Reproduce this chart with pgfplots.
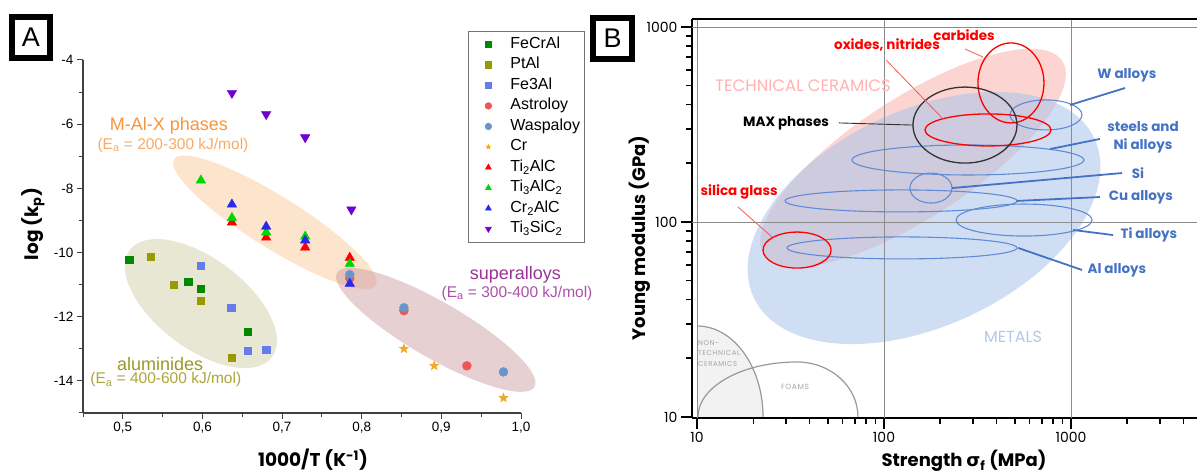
\documentclass[border=0pt]{standalone}
\usepackage{fontspec}
\setmainfont{Liberation Sans}
\newfontfamily\pop{Poppins}
\newfontfamily\popls[LetterSpace=8]{Poppins}
\newfontfamily\dv{DejaVu Sans}
\usepackage{pgfplots}
\pgfplotsset{compat=1.18}
\definecolor{cFeCrAl}{RGB}{0,136,0}
\definecolor{cPtAl}{RGB}{153,153,0}
\definecolor{cFe3Al}{RGB}{100,125,235}
\definecolor{cAstro}{RGB}{238,85,85}
\definecolor{cWaspa}{RGB}{105,150,200}
\definecolor{cCr}{RGB}{240,170,40}
\definecolor{cTiAlC}{RGB}{255,0,0}
\definecolor{cTiAlCC}{RGB}{0,215,0}
\definecolor{cCrAlC}{RGB}{40,40,240}
\definecolor{cTiSiC}{RGB}{110,0,210}
\definecolor{eOrange}{RGB}{253,228,205}
\definecolor{eOlive}{RGB}{232,231,212}
\definecolor{eSuper}{RGB}{200,150,155}
\definecolor{tOrange}{RGB}{247,148,60}
\definecolor{tOrange2}{RGB}{249,170,100}
\definecolor{tOlive}{RGB}{153,153,40}
\definecolor{tOlive2}{RGB}{170,165,60}
\definecolor{tPurple}{RGB}{153,51,153}
\definecolor{tPurple2}{RGB}{170,80,170}
\definecolor{fPink}{RGB}{252,213,210}
\definecolor{fBlue}{RGB}{170,195,235}
\definecolor{lBlue}{RGB}{68,114,196}
\definecolor{eBlue}{RGB}{95,140,212}
\definecolor{tPink}{RGB}{255,178,178}
\definecolor{tMetal}{RGB}{180,199,231}
\definecolor{lRed}{RGB}{240,90,90}
\pgfdeclareplotmark{fstar}{%
  \pgfpathmoveto{\pgfpointpolar{90}{\pgfplotmarksize}}%
  \pgfpathlineto{\pgfpointpolar{126}{0.42\pgfplotmarksize}}%
  \pgfpathlineto{\pgfpointpolar{162}{\pgfplotmarksize}}%
  \pgfpathlineto{\pgfpointpolar{198}{0.42\pgfplotmarksize}}%
  \pgfpathlineto{\pgfpointpolar{234}{\pgfplotmarksize}}%
  \pgfpathlineto{\pgfpointpolar{270}{0.42\pgfplotmarksize}}%
  \pgfpathlineto{\pgfpointpolar{306}{\pgfplotmarksize}}%
  \pgfpathlineto{\pgfpointpolar{342}{0.42\pgfplotmarksize}}%
  \pgfpathlineto{\pgfpointpolar{18}{\pgfplotmarksize}}%
  \pgfpathlineto{\pgfpointpolar{54}{0.42\pgfplotmarksize}}%
  \pgfpathclose\pgfusepathqfill}
\begin{document}
\begin{tikzpicture}
\useasboundingbox (0pt,0pt) rectangle (1198pt,473pt);
% ---------------- Panel A ----------------
\begin{axis}[
  at={(83pt,60pt)}, anchor=south west, scale only axis, width=438pt, height=353pt,
  xmin=0.45, xmax=1.0, ymin=-15, ymax=-4,
  axis x line*=bottom, axis y line*=left,
  axis line style={line width=1.3pt, black!75, -},
  xtick={0.5,0.6,0.7,0.8,0.9,1.0},
  minor xtick={0.45,0.55,0.65,0.75,0.85,0.95},
  ytick={-14,-12,-10,-8,-6,-4},
  minor ytick={-15,-13,-11,-9,-7,-5},
  tick align=outside, major tick length=6pt, minor tick length=4pt,
  tick style={line width=1pt, black!75},
  /pgf/number format/assume math mode=true,
  x tick label style={/pgf/number format/.cd, use comma, fixed, fixed zerofill, precision=1},
  tick label style={font=\fontsize{13.5}{15}\selectfont},
  clip=false,
  legend cell align=left,
  legend image code/.code={\path[draw=none, fill=none] (0pt,-2pt) rectangle (38pt,2pt);
    \draw[mark repeat=2, mark phase=2, mark size=3.2pt, #1] plot coordinates {(0pt,0pt) (17pt,0pt) (34pt,0pt)};},
  legend style={at={(0.879,1.082)}, anchor=north west, draw=black!55, line width=0.8pt,
    fill=white, font=\fontsize{16}{18}\selectfont, row sep=2.5pt,
    inner xsep=3pt, inner ysep=4pt,
    nodes={text height=12pt, text depth=4pt, inner sep=1pt}},
]
\fill[eOlive] (axis cs:0.598,-11.59) ellipse[x radius=89pt, y radius=45pt, rotate=-37];
\fill[eOrange] (axis cs:0.691,-9.06) ellipse[x radius=119pt, y radius=26pt, rotate=-32];
\fill[eSuper, fill opacity=0.45] (axis cs:0.893,-12.41) ellipse[x radius=114pt, y radius=28pt, rotate=-30];

\addplot[only marks, mark=square*, mark size=3.6pt, color=cFeCrAl] coordinates {(0.508,-10.22) (0.582,-10.91) (0.598,-11.13) (0.657,-12.47)};
\addlegendentry{FeCrAl}
\addplot[only marks, mark=square*, mark size=3.6pt, color=cPtAl] coordinates {(0.535,-10.13) (0.564,-11.0) (0.598,-11.5) (0.637,-13.28)};
\addlegendentry{PtAl}
\addplot[only marks, mark=square*, mark size=3.6pt, color=cFe3Al] coordinates {(0.598,-10.41) (0.636,-11.72) (0.657,-13.06) (0.680,-13.03)};
\addlegendentry{Fe3Al}
\addplot[only marks, mark=*, mark size=4.5pt, color=cAstro] coordinates {(0.853,-11.81) (0.932,-13.53) (0.785,-10.8)};
\addlegendentry{Astroloy}
\addplot[only marks, mark=*, mark size=4.5pt, color=cWaspa] coordinates {(0.853,-11.72) (0.978,-13.72) (0.785,-10.69)};
\addlegendentry{Waspaloy}
\addplot[only marks, mark=fstar, mark size=5.5pt, color=cCr] coordinates {(0.853,-13.0) (0.891,-13.53) (0.978,-14.53)};
\addlegendentry{Cr}
\addplot[only marks, mark=triangle*, mark size=5.5pt, color=cTiAlC] coordinates {(0.637,-9.06) (0.680,-9.53) (0.729,-9.84) (0.785,-10.16)};
\addlegendentry{Ti\textsubscript{2}AlC}
\addplot[only marks, mark=triangle*, mark size=5.5pt, color=cTiAlCC] coordinates {(0.598,-7.75) (0.637,-8.92) (0.680,-9.37) (0.729,-9.5) (0.785,-10.35)};
\addlegendentry{Ti\textsubscript{3}AlC\textsubscript{2}}
\addplot[only marks, mark=triangle*, mark size=5.5pt, color=cCrAlC] coordinates {(0.637,-8.5) (0.680,-9.19) (0.729,-9.62) (0.785,-10.97)};
\addlegendentry{Cr\textsubscript{2}AlC}
\addplot[only marks, mark=triangle*, mark size=5.5pt, mark options={rotate=180}, color=cTiSiC] coordinates {(0.637,-5.03) (0.680,-5.69) (0.729,-6.41) (0.787,-8.66)};
\addlegendentry{Ti\textsubscript{3}SiC\textsubscript{2}}

\node[text=tOrange, font=\fontsize{18}{20}\selectfont] at (axis cs:0.558,-6.06) {M-Al-X phases};
\node[text=tOrange2, font=\fontsize{15.5}{17}\selectfont] at (axis cs:0.563,-6.66) {(E\textsubscript{a} = 200-300 kJ/mol)};
\node[text=tOlive, font=\fontsize{18}{20}\selectfont] at (axis cs:0.547,-13.47) {aluminides};
\node[text=tOlive2, font=\fontsize{15.5}{17}\selectfont] at (axis cs:0.554,-13.97) {(E\textsubscript{a} = 400-600 kJ/mol)};
\node[text=tPurple, font=\fontsize{18}{20}\selectfont] at (axis cs:0.993,-10.69) {superalloys};
\node[text=tPurple2, font=\fontsize{15.5}{17}\selectfont] at (axis cs:0.995,-11.28) {(E\textsubscript{a} = 300-400 kJ/mol)};
\end{axis}
\node[rotate=90, font=\pop\bfseries\fontsize{18.5}{20}\selectfont] at (33pt,249pt) {log (k\textsubscript{p})};
\node[font=\pop\bfseries\fontsize{18.5}{20}\selectfont] at (313pt,13pt) {1000/T (K\textsuperscript{-1})};
\draw[line width=6pt] (12pt,456pt) rectangle (50pt,415pt);
\node[font=\fontsize{27}{30}\selectfont] at (31pt,435.5pt) {A};

% ---------------- Panel B (axes in log10 units) ----------------
\begin{axis}[
  at={(692pt,55pt)}, anchor=south west, scale only axis, width=505pt, height=399pt,
  xmin=0.9731, xmax=3.674, ymin=0.9948, ymax=3.041,
  axis x line*=bottom, axis y line*=left,
  axis line style={line width=2.8pt, black, -},
  xtick={1,2,3}, xticklabels={10,100,1000},
  ytick={1,2,3}, yticklabels={10,100,1000},
  minor xtick={1.301,1.477,1.602,1.699,1.778,1.845,1.903,1.954,2.301,2.477,2.602,2.699,2.778,2.845,2.903,2.954,3.301,3.477,3.602},
  minor ytick={1.301,1.477,1.602,1.699,1.778,1.845,1.903,1.954,2.301,2.477,2.602,2.699,2.778,2.845,2.903,2.954},
  tick label style={font=\pop\fontsize{14}{16}\selectfont},
  tick align=outside, major tick length=11pt, minor tick length=6pt,
  tick style={line width=1.6pt, black},
  clip=false,
]
\fill[fPink] (axis cs:2.155,2.328) ellipse[x radius=178pt, y radius=60pt, rotate=33];
\fill[fBlue, fill opacity=0.55] (axis cs:2.214,2.0205) ellipse[x radius=188pt, y radius=108pt, rotate=25];
\fill[black!5] (axis cs:1,1) -- ++(0pt,91pt) arc[start angle=90, end angle=0, x radius=66pt, y radius=91pt] -- cycle;
% grid
\draw[black!45, line width=0.8pt] (axis cs:1,0.9948) -- (axis cs:1,3.041);
\draw[black!45, line width=0.8pt] (axis cs:2,0.9948) -- (axis cs:2,3.041);
\draw[black!45, line width=0.8pt] (axis cs:3,0.9948) -- (axis cs:3,3.041);
\draw[black!45, line width=0.8pt] (axis cs:0.9731,2) -- (axis cs:3.674,2);
\draw[black!45, line width=0.8pt] (axis cs:0.9731,3) -- (axis cs:3.674,3);

\draw[black!40, line width=1.2pt] (axis cs:1,1) ++(0pt,91pt) arc[start angle=90, end angle=0, x radius=66pt, y radius=91pt];
\draw[black!40, line width=1.2pt] (axis cs:1.005,1) arc[start angle=180, end angle=90, x radius=99pt, y radius=55pt] arc[start angle=90, end angle=0, x radius=61pt, y radius=55pt];
\node[anchor=north west, align=left, inner sep=0pt, text=black!35, font=\popls\fontsize{7}{10.5}\selectfont] at (axis cs:1.005,1.395) {NON-\\TECHNICAL\\CERAMICS};
\node[text=black!35, font=\popls\fontsize{7.5}{8}\selectfont] at (axis cs:1.524,1.154) {FOAMS};

% metals
\draw[eBlue, line width=1.1pt] (axis cs:2.866,2.549) ellipse[x radius=36pt, y radius=15pt];
\draw[eBlue, line width=1.1pt] (axis cs:2.449,2.318) ellipse[x radius=116pt, y radius=15pt];
\draw[eBlue, line width=1.1pt] (axis cs:2.251,2.174) ellipse[x radius=21pt, y radius=15pt];
\draw[eBlue, line width=1.1pt] (axis cs:2.091,2.108) ellipse[x radius=116pt, y radius=11pt];
\draw[eBlue, line width=1.1pt] (axis cs:2.749,2.010) ellipse[x radius=68pt, y radius=16pt];
\draw[eBlue, line width=1.1pt] (axis cs:2.096,1.867) ellipse[x radius=115pt, y radius=11pt];
% ceramics
\draw[red, line width=1.3pt] (axis cs:2.679,2.713) ellipse[x radius=33pt, y radius=40pt];
\draw[red, line width=1.3pt] (axis cs:2.556,2.472) ellipse[x radius=63pt, y radius=16pt];
\draw[black!80, line width=1.3pt] (axis cs:2.433,2.497) ellipse[x radius=52pt, y radius=38pt];
\draw[red, line width=1.3pt] (axis cs:1.535,1.856) ellipse[x radius=34pt, y radius=18pt];

% leaders
\draw[lRed, line width=0.8pt] (axis cs:2.433,2.887) -- (axis cs:2.529,2.846);
\draw[lRed, line width=0.8pt] (axis cs:2.011,2.831) -- (axis cs:2.316,2.528);
\draw[lRed, line width=0.8pt] (axis cs:1.219,2.077) -- (axis cs:1.401,1.923);
\draw[black!80, line width=0.9pt] (axis cs:1.759,2.508) -- (axis cs:2.155,2.497);
\draw[lBlue, line width=1.8pt] (axis cs:3.289,2.687) -- (axis cs:2.995,2.6);
\draw[lBlue, line width=1.8pt] (axis cs:3.155,2.426) -- (axis cs:2.888,2.374);
\draw[lBlue, line width=1.8pt] (axis cs:3.273,2.251) -- (axis cs:2.364,2.174);
\draw[lBlue, line width=1.8pt] (axis cs:3.155,2.128) -- (axis cs:2.711,2.108);
\draw[lBlue, line width=1.8pt] (axis cs:3.225,1.933) -- (axis cs:3.011,1.959);
\draw[lBlue, line width=1.8pt] (axis cs:3.059,1.754) -- (axis cs:2.717,1.867);

% labels
\node[text=tPink, font=\pop\fontsize{16.5}{18}\selectfont] at (axis cs:1.567,2.697) {TECHNICAL CERAMICS};
\node[text=tMetal, font=\pop\fontsize{16}{18}\selectfont] at (axis cs:2.690,1.410) {METALS};
\node[text=red, font=\pop\bfseries\fontsize{13.5}{16}\selectfont] at (axis cs:2.428,2.959) {carbides};
\node[text=red, font=\pop\bfseries\fontsize{13.5}{16}\selectfont] at (axis cs:2.016,2.908) {oxides, nitrides};
\node[text=black, font=\pop\bfseries\fontsize{13.5}{16}\selectfont] at (axis cs:1.476,2.508) {MAX phases};
\node[text=red, font=\pop\bfseries\fontsize{13.5}{16}\selectfont] at (axis cs:1.225,2.154) {silica glass};
\node[text=lBlue, font=\pop\bfseries\fontsize{13.5}{16}\selectfont] at (axis cs:3.299,2.754) {W alloys};
\node[text=lBlue, align=center, font=\pop\bfseries\fontsize{13.5}{18}\selectfont] at (axis cs:3.385,2.436) {steels and\\Ni alloys};
\node[text=lBlue, font=\pop\bfseries\fontsize{13.5}{16}\selectfont] at (axis cs:3.358,2.251) {Si};
\node[text=lBlue, font=\pop\bfseries\fontsize{13.5}{16}\selectfont] at (axis cs:3.374,2.128) {Cu alloys};
\node[text=lBlue, font=\pop\bfseries\fontsize{13.5}{16}\selectfont] at (axis cs:3.417,1.933) {Ti alloys};
\node[text=lBlue, font=\pop\bfseries\fontsize{13.5}{16}\selectfont] at (axis cs:3.246,1.754) {Al alloys};
\draw[line width=2.8pt] (axis cs:0.9731,3.041) -- (axis cs:3.674,3.041);
\end{axis}
\node[rotate=90, font=\pop\bfseries\fontsize{18}{20}\selectfont] at (640pt,235pt) {Young modulus (GPa)};
\node[font=\pop\bfseries\fontsize{18}{20}\selectfont] at (964pt,12pt) {Strength {\dv\bfseries σ}\textsubscript{f} (MPa)};
\draw[line width=6pt] (593pt,455pt) rectangle (632pt,414pt);
\node[font=\fontsize{27}{30}\selectfont] at (612.5pt,434.5pt) {B};
\end{tikzpicture}
\end{document}
